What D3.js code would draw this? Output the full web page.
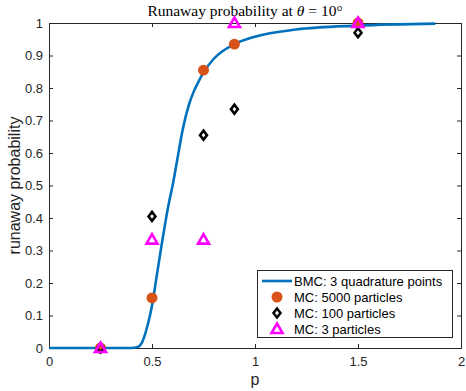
<!DOCTYPE html>
<html><head><meta charset="utf-8">
<script src="https://cdn.jsdelivr.net/npm/d3@7"></script>
<style>body{margin:0;background:#fff}</style>
</head><body>
<svg id="c" width="466" height="391"></svg>
<script>
// BMC curve
const bmcX = [0, 0.40, 0.43, 0.45, 0.47, 0.49, 0.50, 0.52, 0.55, 0.58, 0.60, 0.62, 0.65, 0.68, 0.70, 0.72, 0.75, 0.80, 0.90, 1.0, 1.2, 1.5, 1.875];
const bmcY = [0, 0, 0.003, 0.015, 0.05, 0.10, 0.13, 0.21, 0.33, 0.44, 0.50, 0.57, 0.675, 0.75, 0.785, 0.812, 0.848, 0.89, 0.935, 0.958, 0.98, 0.992, 0.998];
const mcP = [0.25, 0.5, 0.75, 0.9, 1.5];
const mc5000 = [0, 0.154, 0.855, 0.935, 1.0];
const mc100 = [0, 0.405, 0.655, 0.735, 0.97];
const mc3 = [0, 1/3, 1/3, 1, 1];
const xTicks = [0, 0.5, 1, 1.5, 2];
const yTicks = [0, 0.1, 0.2, 0.3, 0.4, 0.5, 0.6, 0.7, 0.8, 0.9, 1];
const legendLabels = ["BMC: 3 quadrature points", "MC: 5000 particles", "MC: 100 particles", "MC: 3 particles"];

const svg = d3.select("#c");
const L = 49, R = 461, T = 23, B = 348;
const x = d3.scaleLinear().domain([0, 2]).range([L, R]);
const y = d3.scaleLinear().domain([0, 1]).range([B, T]);
const axCol = "#262626";
const font = "Liberation Sans, Arial, sans-serif";

// axes
const tickFmt = d => d3.format("~g")(d);
const xb = svg.append("g").attr("transform", `translate(0,${B})`)
  .call(d3.axisBottom(x).tickValues(xTicks).tickSize(-4).tickPadding(6).tickFormat(tickFmt));
const xt = svg.append("g").attr("transform", `translate(0,${T})`)
  .call(d3.axisTop(x).tickValues(xTicks).tickSize(-4).tickFormat(""));
const yl = svg.append("g").attr("transform", `translate(${L},0)`)
  .call(d3.axisLeft(y).tickValues(yTicks).tickSize(-4).tickPadding(6).tickFormat(tickFmt));
const yr = svg.append("g").attr("transform", `translate(${R},0)`)
  .call(d3.axisRight(y).tickValues(yTicks).tickSize(-4).tickFormat(""));
[xb, xt, yl, yr].forEach(g => {
  g.selectAll("path").attr("stroke", axCol).attr("stroke-width", 1);
  g.selectAll("line").attr("stroke", axCol);
  g.selectAll("text").attr("fill", axCol).style("font-family", font).style("font-size", "13px");
});
xb.selectAll("text").attr("dy", "0.9em");

// labels
svg.append("text").attr("x", (L + R) / 2).attr("y", 385).attr("text-anchor", "middle")
  .style("font-family", font).style("font-size", "16px").attr("fill", axCol).text("p");
svg.append("text").attr("transform", `translate(20,${(T + B) / 2}) rotate(-90)`).attr("text-anchor", "middle")
  .style("font-family", font).style("font-size", "16px").attr("fill", axCol).text("runaway probability");
const title = svg.append("text").attr("x", (L + R) / 2 - 10).attr("y", 16).attr("text-anchor", "middle")
  .style("font-family", "Liberation Serif, DejaVu Serif, serif").style("font-size", "15.5px").attr("fill", "#000");
title.append("tspan").text("Runaway probability at ");
title.append("tspan").attr("font-style", "italic").text("θ");
title.append("tspan").text(" = 10°");

// BMC line
const blue = "#0072BD", orange = "#D95319", mag = "#FF00FF";
const pts = bmcX.map((v, i) => [v, bmcY[i]]);
svg.append("path").datum(pts)
  .attr("d", d3.line().x(d => x(d[0])).y(d => y(d[1])).curve(d3.curveMonotoneX))
  .attr("fill", "none").attr("stroke", blue).attr("stroke-width", 2.6);

// markers
const circ = d3.symbol().type(d3.symbolCircle).size(95);
const diam = "M0,-4.5L3.5,0L0,4.5L-3.5,0Z";
const tri = "M0,-5.5L5.5,4L-5.5,4Z";
function drawOrange(g) { g.append("path").attr("d", circ()).attr("fill", orange); }
function drawDiamond(g) { g.append("path").attr("d", diam).attr("fill", "none").attr("stroke", "#000").attr("stroke-width", 2.5); }
function drawTri(g) { g.append("path").attr("d", tri).attr("fill", "none").attr("stroke", mag).attr("stroke-width", 2.6).attr("stroke-linejoin", "miter"); }

mcP.forEach((p, i) => drawOrange(svg.append("g").attr("transform", `translate(${x(p)},${y(mc5000[i])})`)));
mcP.forEach((p, i) => drawDiamond(svg.append("g").attr("transform", `translate(${x(p)},${y(mc100[i])})`)));
mcP.forEach((p, i) => drawTri(svg.append("g").attr("transform", `translate(${x(p)},${y(mc3[i])})`)));

// legend
const lg = svg.append("g");
lg.append("rect").attr("x", 257.5).attr("y", 270.5).attr("width", 195).attr("height", 67)
  .attr("fill", "#fff").attr("stroke", axCol).attr("stroke-width", 1);
const rows = [281, 297, 313, 329];
lg.append("line").attr("x1", 262).attr("x2", 292).attr("y1", rows[0]).attr("y2", rows[0]).attr("stroke", blue).attr("stroke-width", 2.6);
drawOrange(lg.append("g").attr("transform", `translate(277,${rows[1]})`));
drawDiamond(lg.append("g").attr("transform", `translate(277,${rows[2]})`));
drawTri(lg.append("g").attr("transform", `translate(277,${rows[3]})`));
legendLabels.forEach((t, i) => lg.append("text").attr("x", 294).attr("y", rows[i]).attr("dy", "0.35em")
  .style("font-family", font).style("font-size", "13px").attr("fill", "#000").text(t));
</script>
</body></html>
